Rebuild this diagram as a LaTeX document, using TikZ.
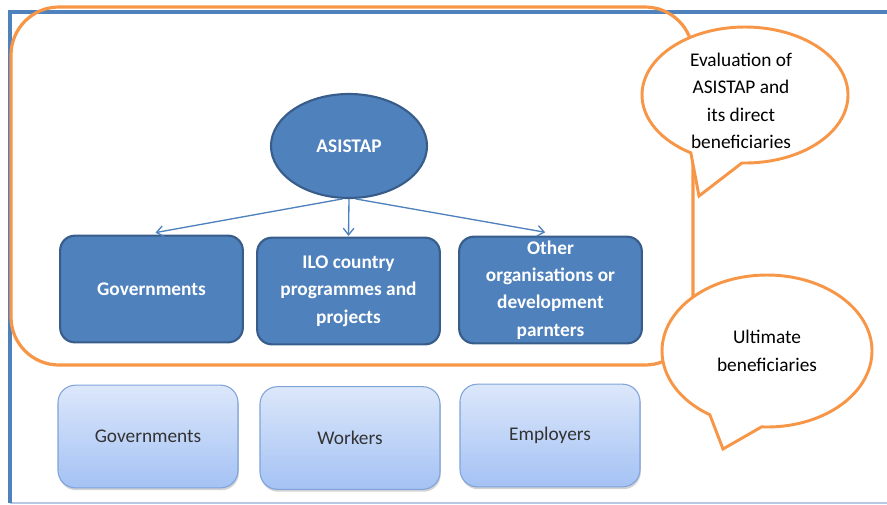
\documentclass[tikz,border=0pt]{standalone}
\usepackage{fontspec}
\setmainfont{Carlito}
\usetikzlibrary{shapes.geometric,shapes.callouts,arrows.meta,shadows}

\definecolor{frameblue}{HTML}{4F81BD}
\definecolor{boxblue}{HTML}{4F81BD}
\definecolor{boxedge}{HTML}{385D8A}
\definecolor{groupline}{HTML}{F79646}
\definecolor{lighttop}{HTML}{DCE7FA}
\definecolor{lightbot}{HTML}{A4C2F4}
\definecolor{lightedge}{HTML}{7FA3DA}
\definecolor{footblue}{HTML}{B8C8E4}

\tikzset{
  txt/.style={font=\fontsize{14.5pt}{20.5pt}\selectfont, align=center},
  darkbox/.style={txt, draw=boxedge, line width=1.6pt, fill=boxblue,
    text=white, font=\bfseries\fontsize{14.5pt}{20.5pt}\selectfont,
    rounded corners=11pt, minimum width=137pt, minimum height=80pt, inner sep=2pt},
  lightbox/.style={txt, draw=lightedge, line width=0.8pt,
    top color=lighttop, bottom color=lightbot, text=black!80,
    rounded corners=13pt, minimum width=135pt, minimum height=77pt,
    drop shadow={shadow xshift=0.6pt, shadow yshift=-1.8pt, opacity=0.35}},
  bubble/.style={shape=ellipse callout, draw=groupline, line width=2.2pt,
    fill=white, inner sep=0pt, callout pointer arc=30},
  link/.style={draw=boxblue, line width=1pt, -{Straight Barb[length=5pt,width=8pt]}}
}

\begin{document}
\begin{tikzpicture}[x=0.75pt,y=-0.75pt]
\useasboundingbox (0,0) rectangle (887,504);

% outer frame
\draw[draw=footblue, line width=1.2pt] (10,503) -- (887,503);
\draw[frameblue, line width=3pt] (10,503) -- (10,11.5) -- (890,11.5);

% group outline around the programme and its direct beneficiaries
\draw[groupline, line width=2.4pt, rounded corners=36pt] (11,7) rectangle (693,365);

% speech bubbles
\node[bubble, minimum width=154.5pt, minimum height=102pt,
      callout absolute pointer={(699,196)}] (evalbubble) at (745,95) {};
\node[txt] (evaltext) at (741,101) {Evaluation of\\ASISTAP and\\its direct\\beneficiaries};
\node[bubble, txt, minimum width=157.5pt, minimum height=114pt,
      callout absolute pointer={(723,449)}] (ultimate) at (767,351) {Ultimate\\beneficiaries};

% programme
\node[ellipse, draw=boxedge, line width=1.6pt, fill=boxblue, text=white,
      font=\bfseries\fontsize{14.5pt}{20.5pt}\selectfont,
      minimum width=117pt, minimum height=78pt, inner sep=0pt] (asistap) at (349,146) {ASISTAP};

% direct beneficiaries
\node[darkbox] (gov) at (151.5,289) {Governments};
\node[darkbox] (ilo) at (348.5,291) {ILO country\\programmes and\\projects};
\node[darkbox] (other) at (550.5,290) {Other\\organisations or\\development\\parnters};

% ultimate beneficiaries
\node[lightbox] (govb) at (148,436.5) {Governments};
\node[lightbox] (workers) at (350,438) {Workers};
\node[lightbox] (employers) at (550,435.5) {Employers};

% links
\draw[link] (asistap.263) -- ([xshift=3pt,yshift=1.5pt]gov.north);
\draw[link] (asistap.270) -- ([yshift=0.5pt]ilo.north);
\draw[link] (asistap.277) -- ([xshift=-4pt,yshift=2.5pt]other.north);
\end{tikzpicture}
\end{document}
